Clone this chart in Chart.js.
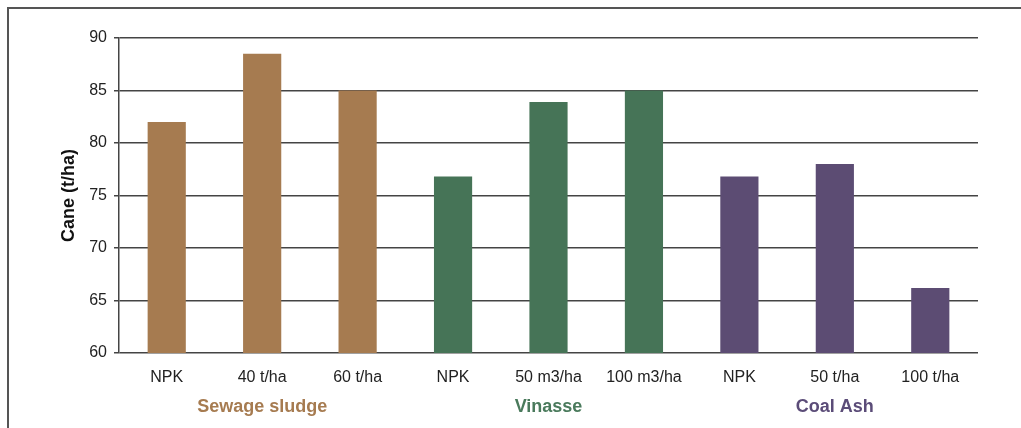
<!DOCTYPE html>
<html>
<head>
<meta charset="utf-8">
<script src="https://cdn.jsdelivr.net/npm/chart.js@4.4.0/dist/chart.umd.min.js"></script>
<style>
  html, body { margin: 0; padding: 0; background: #fff; }
  #wrap { position: relative; width: 1021px; height: 428px; overflow: hidden; }
  #frame { position: absolute; left: 7px; top: 7px; right: -10px; bottom: -10px;
           border-left: 2px solid #555; border-top: 2px solid #555; }
  canvas { position: absolute; left: 0; top: 0; }
</style>
</head>
<body>
<div id="wrap">
  <div id="frame"></div>
  <canvas id="myChart" width="1021" height="428"></canvas>
</div>
<script>
'use strict';

// treatments along the x axis
var labels = ['NPK', '40 t/ha', '60 t/ha', 'NPK', '50 m3/ha', '100 m3/ha', 'NPK', '50 t/ha', '100 t/ha'];
// cane yield, t/ha
var cane = [82, 88.5, 85, 76.8, 83.9, 85, 76.8, 78, 66.2];
// group names, shown under the middle bar of each group
var groups = ['', 'Sewage sludge', '', '', 'Vinasse', '', '', 'Coal Ash', ''];

var brown = '#a67b50';
var green = '#467457';
var purple = '#5c4c73';
var barColors = [brown, brown, brown, green, green, green, purple, purple, purple];
var groupColors = ['#a67b50', '#a67b50', '#a67b50', '#4a7a5c', '#4a7a5c', '#4a7a5c', '#5b4c78', '#5b4c78', '#5b4c78'];

var font = "'Liberation Sans', Arial, sans-serif";

var ctx = document.getElementById('myChart').getContext('2d');
var chart = new Chart(ctx, {
  type: 'bar',
  data: {
    labels: labels,
    datasets: [{
      data: cane,
      backgroundColor: barColors,
      borderWidth: 0,
      barPercentage: 0.4,
      categoryPercentage: 1
    }]
  },
  options: {
    responsive: false,
    animation: false,
    layout: { padding: { left: 0, right: 43, top: 38, bottom: 0 } },
    plugins: {
      legend: { display: false },
      tooltip: { enabled: false }
    },
    scales: {
      y: {
        min: 60,
        max: 90,
        z: 1,
        afterFit: function (scale) { scale.width = 119; },
        ticks: {
          stepSize: 5,
          padding: 7,
          color: '#222',
          font: { family: font, size: 16 }
        },
        grid: { color: '#444', lineWidth: 1.5, tickLength: 5 },
        border: { display: true, color: '#444', width: 1.5 },
        title: {
          display: true,
          text: 'Cane (t/ha)',
          color: '#111',
          padding: { top: 58, bottom: 0 },
          font: { family: font, size: 18, weight: 'bold' }
        }
      },
      x: {
        weight: 0,
        afterFit: function (scale) { scale.height = 38; },
        grid: { display: false, drawTicks: false },
        border: { display: false },
        ticks: {
          autoSkip: false,
          maxRotation: 0,
          padding: 15,
          color: '#222',
          font: { family: font, size: 16 }
        }
      },
      x2: {
        type: 'category',
        position: 'bottom',
        weight: 1,
        labels: groups,
        offset: true,
        afterFit: function (scale) { scale.height = 37; },
        grid: { display: false, drawTicks: false },
        border: { display: false },
        ticks: {
          autoSkip: false,
          maxRotation: 0,
          padding: 5,
          color: function (c) { return groupColors[c.index]; },
          font: { family: font, size: 18, weight: 'bold' }
        }
      }
    }
  }
});
</script>
</body>
</html>
